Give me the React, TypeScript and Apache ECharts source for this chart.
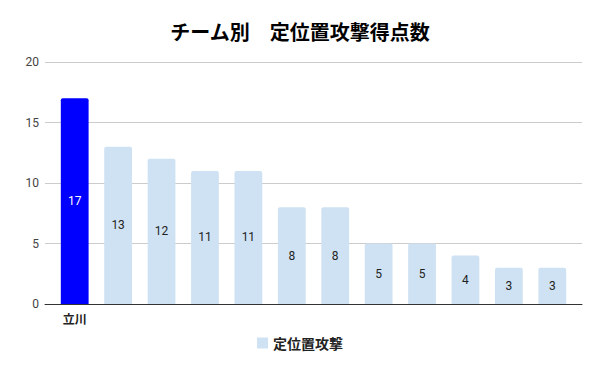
import React, { useEffect, useRef } from "react";
import * as echarts from "echarts";

const titleText = "チーム別　定位置攻撃得点数";
const seriesName = "定位置攻撃";
const categories = ["立川", "", " ", "  ", "   ", "    ", "     ", "      ", "       ", "        ", "         ", "          "];
const values = [17, 13, 12, 11, 11, 8, 8, 5, 5, 4, 3, 3];
const highlightIndex = 0;
const yTicks = { min: 0, max: 20, interval: 5 };

export default function App() {
  const ref = useRef<HTMLDivElement>(null);
  useEffect(() => {
    document.body.style.margin = "0";
    if (!ref.current) return;
    const chart = echarts.init(ref.current, undefined, { renderer: "svg" });
    const font = "Roboto, 'Noto Sans CJK JP', sans-serif";
    chart.setOption({
      animation: false,
      textStyle: { fontFamily: font },
      title: {
        text: titleText,
        left: "center",
        top: 16,
        textStyle: { fontSize: 20, fontWeight: "bold", color: "#000", fontFamily: "'Noto Sans CJK JP', sans-serif" },
      },
      legend: {
        bottom: 16,
        left: "center",
        icon: "rect",
        itemWidth: 11,
        itemHeight: 11,
        itemGap: 10,
        textStyle: { fontSize: 14, fontWeight: "bold", color: "#222", fontFamily: "'Noto Sans CJK JP', sans-serif" },
        data: [{ name: seriesName, itemStyle: { color: "#cfe2f3" } }],
      },
      grid: [
        { left: 45, right: 18, top: 62, bottom: 67 },
        { left: 53, right: 26, top: 62, bottom: 67 },
      ],
      xAxis: [
        {
          gridIndex: 0,
          type: "value",
          min: 0,
          max: 1,
          position: "bottom",
          axisLine: { show: true, onZero: false, lineStyle: { color: "#333", width: 1 } },
          axisTick: { show: false },
          axisLabel: { show: false },
          splitLine: { show: false },
        },
        {
          gridIndex: 1,
          type: "category",
          data: categories,
          axisLine: { show: false },
          axisTick: { show: false },
          axisLabel: {
            interval: 0,
            margin: 8,
            fontSize: 12,
            fontWeight: "bold",
            color: "#222",
            fontFamily: "'Noto Sans CJK JP', sans-serif",
          },
        },
      ],
      yAxis: [
        {
          gridIndex: 0,
          type: "value",
          min: yTicks.min,
          max: yTicks.max,
          interval: yTicks.interval,
          axisLine: { show: false },
          axisTick: { show: false },
          axisLabel: { fontSize: 12, color: "#444", margin: 6 },
          splitLine: { lineStyle: { color: "#cccccc" } },
        },
        {
          gridIndex: 1,
          type: "value",
          min: yTicks.min,
          max: yTicks.max,
          interval: yTicks.interval,
          axisLine: { show: false },
          axisTick: { show: false },
          axisLabel: { show: false },
          splitLine: { show: false },
        },
      ],
      series: [
        {
          name: seriesName,
          type: "bar",
          xAxisIndex: 1,
          yAxisIndex: 1,
          barCategoryGap: "36%",
          itemStyle: { color: "#cfe2f3", borderRadius: [2, 2, 0, 0] },
          label: { show: true, position: "inside", fontSize: 12, color: "#222" },
          data: values.map((v, i) =>
            i === highlightIndex
              ? { value: v, itemStyle: { color: "#0000ff" }, label: { color: "#fff" } }
              : v
          ),
        },
      ],
    });
    return () => chart.dispose();
  }, []);
  return <div ref={ref} style={{ width: 600, height: 371 }} />;
}
